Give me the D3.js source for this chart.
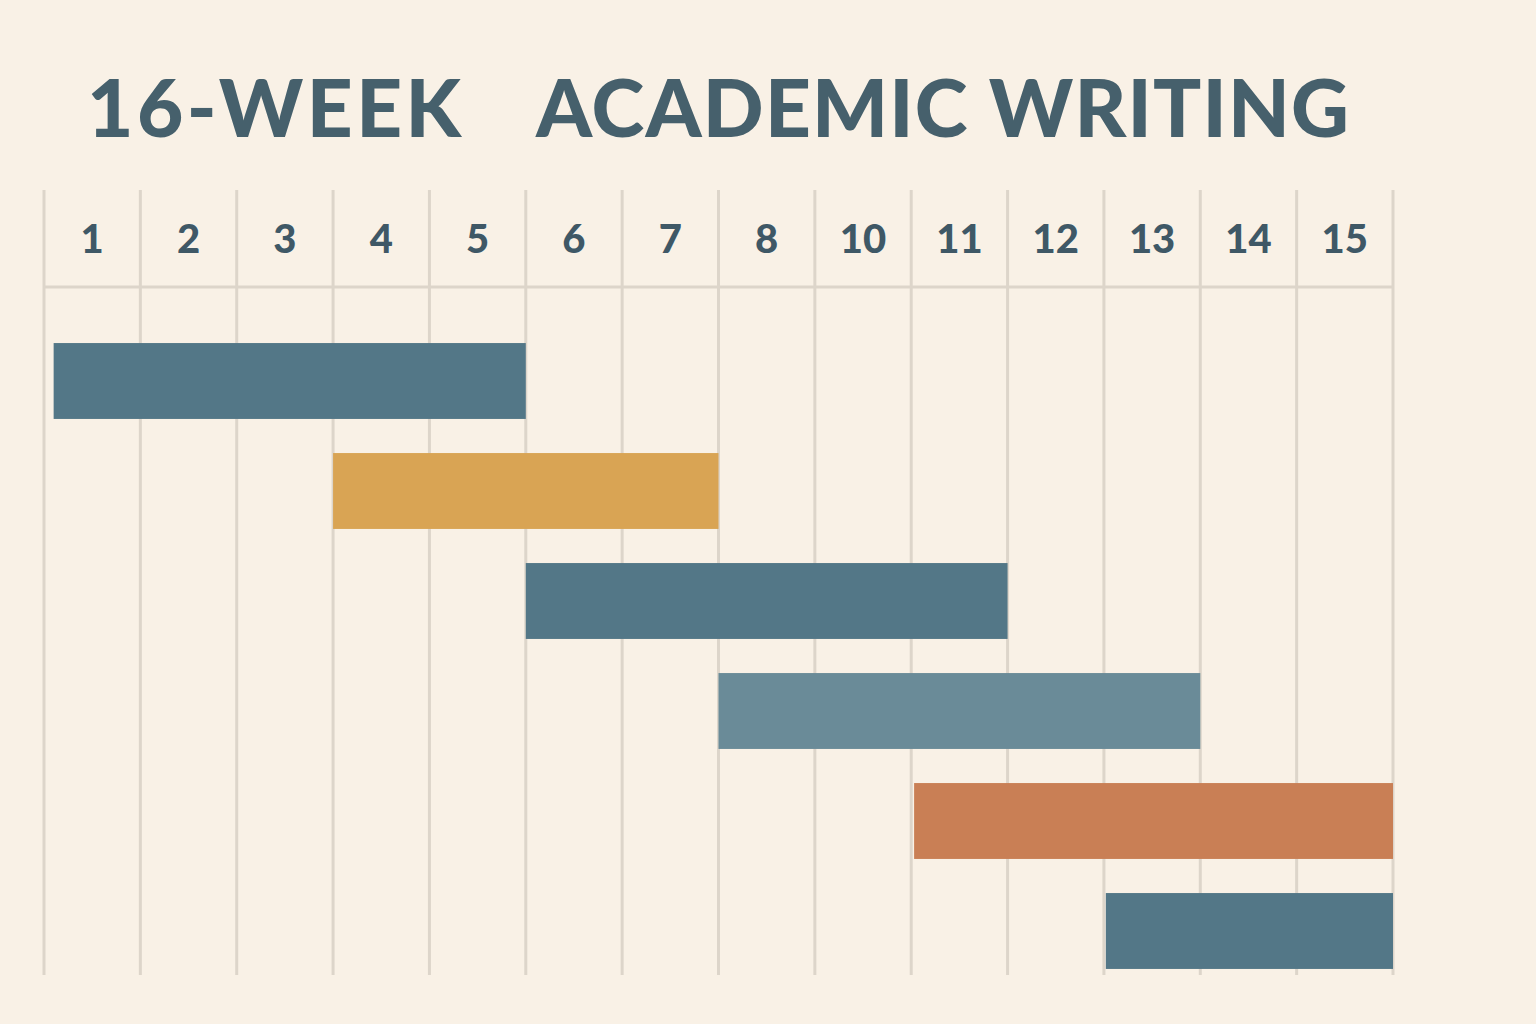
<!DOCTYPE html>
<html><head><meta charset="utf-8">
<script src="https://cdn.jsdelivr.net/npm/d3@7"></script>
<style>html,body{margin:0;padding:0;background:#F9F1E6;}svg{display:block;}</style>
</head><body>
<svg id="chart" width="1536" height="1024"></svg>
<script>
const weekLabels = ["1","2","3","4","5","6","7","8","10","11","12","13","14","15"];
const tasks = ["Task A","Task B","Task C","Task D","Task E","Task F"];
const taskStart = [0.1, 3, 5, 7, 9.03, 11.02];
const taskEnd = [5, 7, 10, 12, 14, 14];
const taskColors = ["#537787","#D9A454","#537787","#6A8B98","#C97F55","#537787"];
const titleParts = ["16-WEEK", "ACADEMIC WRITING"];

const svg = d3.select("#chart");
svg.append("rect").attr("width",1536).attr("height",1024).attr("fill","#F9F1E6");

const x = d3.scaleLinear().domain([0, weekLabels.length]).range([44, 1393]);
const y = d3.scaleBand().domain(tasks).range([326, 986]).paddingInner(0.31).paddingOuter(0.155);

const gridTop = 190, headerBottom = 287, gridBottom = 975;
const gridColor = "#DDD5CA";

svg.append("g").selectAll("line").data(d3.range(weekLabels.length + 1)).join("line")
  .attr("x1", d => x(d)).attr("x2", d => x(d))
  .attr("y1", gridTop).attr("y2", gridBottom)
  .attr("stroke", gridColor).attr("stroke-width", 3);

svg.append("line").attr("x1", x(0)).attr("x2", x(weekLabels.length))
  .attr("y1", headerBottom).attr("y2", headerBottom)
  .attr("stroke", gridColor).attr("stroke-width", 3);

svg.append("g").selectAll("text").data(weekLabels).join("text")
  .attr("x", (d,i) => x(i + 0.5)).attr("y", 238)
  .attr("text-anchor","middle").attr("dominant-baseline","central")
  .attr("font-family","Lato, 'DejaVu Sans', sans-serif").attr("font-weight",900)
  .attr("font-size",40).attr("fill","#3F5866")
  .text(d => d);

svg.append("g").selectAll("rect").data(tasks).join("rect")
  .attr("x", (d,i) => x(taskStart[i]))
  .attr("width", (d,i) => x(taskEnd[i]) - x(taskStart[i]))
  .attr("y", d => y(d)).attr("height", y.bandwidth())
  .attr("fill", (d,i) => taskColors[i]);

const title = svg.append("text").attr("y", 137)
  .attr("font-family","Lato, 'DejaVu Sans', sans-serif").attr("font-weight",900)
  .attr("font-size",80).attr("fill","#46606C");
title.append("tspan").attr("x", 87).attr("letter-spacing",3.5).text(titleParts[0]);
title.append("tspan").attr("x", 536).attr("letter-spacing",1.2).text(titleParts[1]);
</script>
</body></html>
